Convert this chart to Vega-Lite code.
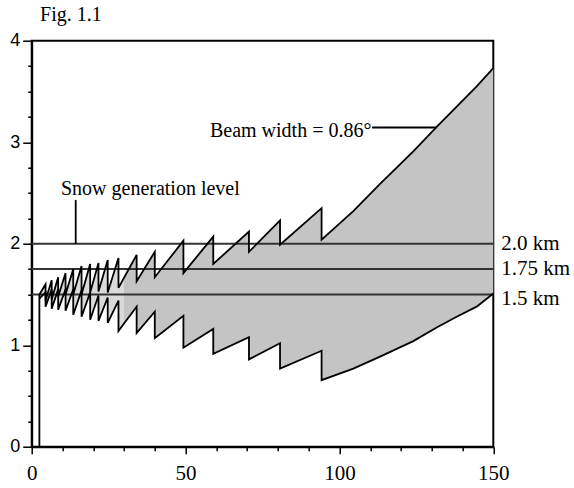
{
  "$schema": "https://vega.github.io/schema/vega-lite/v6.json",
  "width": 461.6,
  "height": 406,
  "autosize": {"type": "none"},
  "padding": {"left": 31.7, "top": 40.7, "right": 80.7, "bottom": 41.3},
  "background": "white",
  "config": {
    "view": {"stroke": "black", "strokeWidth": 2},
    "axis": {"zindex": 1, "grid": false, "domainColor": "black", "domainWidth": 2, "tickColor": "black", "tickWidth": 1.5, "labelColor": "black", "labelOverlap": false, "labelFlush": false, "labelBound": false}
  },
  "resolve": {"axis": {"x": "independent", "y": "independent"}},
  "datasets": {
    "beam": [
      {"x": 2.5, "u": 1.5, "l": 1.46},
      {"x": 4.5, "u": 1.6, "l": 1.52},
      {"x": 4.5, "u": 1.44, "l": 1.38},
      {"x": 6.5, "u": 1.64, "l": 1.55},
      {"x": 6.5, "u": 1.45, "l": 1.36},
      {"x": 8.6, "u": 1.67, "l": 1.55},
      {"x": 8.6, "u": 1.48, "l": 1.35},
      {"x": 11.0, "u": 1.71, "l": 1.55},
      {"x": 11.0, "u": 1.5, "l": 1.34},
      {"x": 13.5, "u": 1.75, "l": 1.55},
      {"x": 13.5, "u": 1.5, "l": 1.3},
      {"x": 16.2, "u": 1.78, "l": 1.54},
      {"x": 16.2, "u": 1.5, "l": 1.28},
      {"x": 19.0, "u": 1.8, "l": 1.52},
      {"x": 19.0, "u": 1.52, "l": 1.25},
      {"x": 21.7, "u": 1.81, "l": 1.49},
      {"x": 21.7, "u": 1.53, "l": 1.24},
      {"x": 24.7, "u": 1.84, "l": 1.47},
      {"x": 24.7, "u": 1.52, "l": 1.22},
      {"x": 28.2, "u": 1.86, "l": 1.44},
      {"x": 28.2, "u": 1.565, "l": 1.14},
      {"x": 30.0, "u": 1.664, "l": 1.213},
      {"x": 34.1, "u": 1.89, "l": 1.38},
      {"x": 34.1, "u": 1.63, "l": 1.12},
      {"x": 40.0, "u": 1.92, "l": 1.33},
      {"x": 40.0, "u": 1.67, "l": 1.07},
      {"x": 49.3, "u": 2.03, "l": 1.29},
      {"x": 49.3, "u": 1.71, "l": 0.975},
      {"x": 59.0, "u": 2.07, "l": 1.16},
      {"x": 59.0, "u": 1.8, "l": 0.915},
      {"x": 70.6, "u": 2.12, "l": 1.08},
      {"x": 70.6, "u": 1.92, "l": 0.86},
      {"x": 80.7, "u": 2.23, "l": 1.02},
      {"x": 80.7, "u": 1.99, "l": 0.77},
      {"x": 94.2, "u": 2.35, "l": 0.945},
      {"x": 94.2, "u": 2.04, "l": 0.656},
      {"x": 104.5, "u": 2.32, "l": 0.77},
      {"x": 113.2, "u": 2.59, "l": 0.887},
      {"x": 124.0, "u": 2.91, "l": 1.04},
      {"x": 131.6, "u": 3.15, "l": 1.175},
      {"x": 138.1, "u": 3.35, "l": 1.28},
      {"x": 144.6, "u": 3.55, "l": 1.38},
      {"x": 150.0, "u": 3.73, "l": 1.51}
    ],
    "levels": [
      {"h": 2.0, "label": "2.0 km", "ly": 2.0},
      {"h": 1.75, "label": "1.75 km", "ly": 1.75},
      {"h": 1.5, "label": "1.5 km", "ly": 1.46}
    ],
    "leaders": [
      {"x1": 2.5, "x2": 2.5, "y1": 0, "y2": 1.5},
      {"x1": 14.3, "x2": 14.3, "y1": 2.0, "y2": 2.43},
      {"x1": 110.6, "x2": 131.6, "y1": 3.145, "y2": 3.145}
    ]
  },
  "layer": [
    {
      "data": {"name": "beam"},
      "transform": [{"filter": "datum.x <= 30"}],
      "mark": {"type": "area", "color": "#dadada"},
      "encoding": {
        "x": {"field": "x", "type": "quantitative", "title": null,
              "scale": {"domain": [0, 150], "nice": false, "zero": false},
              "axis": {"orient": "bottom", "values": [0, 50, 100, 150], "format": "d",
                       "tickSize": 7, "labelOverlap": false,
                       "labelFont": "Liberation Serif", "labelFontSize": 21, "labelPadding": 9}},
        "y": {"field": "u", "type": "quantitative", "title": null,
              "scale": {"domain": [0, 4], "nice": false},
              "axis": {"orient": "left", "values": [0, 1, 2, 3, 4], "format": "d",
                       "tickSize": 9, "labelOverlap": false,
                       "labelFont": "Liberation Sans", "labelFontSize": 18, "labelPadding": 3}},
        "y2": {"field": "l"},
        "order": {"value": null}
      }
    },
    {
      "data": {"name": "beam"},
      "transform": [{"filter": "datum.x >= 30"}],
      "mark": {"type": "area", "color": "#c4c4c4"},
      "encoding": {
        "x": {"field": "x", "type": "quantitative", "title": null,
              "axis": {"orient": "bottom", "values": [10, 20, 30, 40, 60, 70, 80, 90, 110, 120, 130, 140],
                       "labels": false, "tickSize": 4, "domain": false}},
        "y": {"field": "u", "type": "quantitative", "title": null,
              "axis": {"orient": "left", "values": [0.25, 0.5, 0.75, 1.25, 1.5, 1.75, 2.25, 2.5, 2.75, 3.25, 3.5, 3.75],
                       "labels": false, "tickSize": 4, "domain": false}},
        "y2": {"field": "l"},
        "order": {"value": null}
      }
    },
    {
      "data": {"name": "levels"},
      "mark": {"type": "rule", "color": "#333333", "strokeWidth": 2},
      "encoding": {
        "y": {"field": "h", "type": "quantitative", "title": null, "axis": null}
      }
    },
    {
      "data": {"name": "beam"},
      "mark": {"type": "line", "color": "black", "strokeWidth": 1.8},
      "encoding": {
        "x": {"field": "x", "type": "quantitative", "title": null, "axis": null},
        "y": {"field": "u", "type": "quantitative", "title": null, "axis": null},
        "order": {"value": null}
      }
    },
    {
      "data": {"name": "beam"},
      "mark": {"type": "line", "color": "black", "strokeWidth": 1.8},
      "encoding": {
        "x": {"field": "x", "type": "quantitative", "title": null, "axis": null},
        "y": {"field": "l", "type": "quantitative", "title": null, "axis": null},
        "order": {"value": null}
      }
    },
    {
      "data": {"name": "leaders"},
      "mark": {"type": "rule", "color": "black", "strokeWidth": 1.8},
      "encoding": {
        "x": {"field": "x1", "type": "quantitative", "title": null, "axis": null},
        "x2": {"field": "x2"},
        "y": {"field": "y1", "type": "quantitative", "title": null, "axis": null},
        "y2": {"field": "y2"}
      }
    },
    {
      "data": {"name": "levels"},
      "mark": {"type": "text", "align": "left", "baseline": "middle", "dx": 8, "font": "Liberation Serif", "fontSize": 21, "color": "black"},
      "encoding": {
        "x": {"datum": 150, "type": "quantitative", "axis": null},
        "y": {"field": "ly", "type": "quantitative", "title": null, "axis": null},
        "text": {"field": "label"}
      }
    },
    {
      "data": {"values": [{"x": 9.5, "y": 2.48, "label": "Snow generation level"}]},
      "mark": {"type": "text", "align": "left", "baseline": "alphabetic", "font": "Liberation Serif", "fontSize": 20, "color": "black"},
      "encoding": {
        "x": {"field": "x", "type": "quantitative", "title": null, "axis": null},
        "y": {"field": "y", "type": "quantitative", "title": null, "axis": null},
        "text": {"field": "label"}
      }
    },
    {
      "data": {"values": [{"x": 110.4, "y": 3.055, "label": "Beam width = 0.86°"}]},
      "mark": {"type": "text", "align": "right", "baseline": "alphabetic", "font": "Liberation Serif", "fontSize": 20, "color": "black"},
      "encoding": {
        "x": {"field": "x", "type": "quantitative", "title": null, "axis": null},
        "y": {"field": "y", "type": "quantitative", "title": null, "axis": null},
        "text": {"field": "label"}
      }
    },
    {
      "data": {"values": [{"x": 2.7, "y": 4, "label": "Fig. 1.1"}]},
      "mark": {"type": "text", "align": "left", "baseline": "alphabetic", "dy": -20, "font": "Liberation Serif", "fontSize": 20, "color": "black"},
      "encoding": {
        "x": {"field": "x", "type": "quantitative", "title": null, "axis": null},
        "y": {"field": "y", "type": "quantitative", "title": null, "axis": null},
        "text": {"field": "label"}
      }
    }
  ]
}
